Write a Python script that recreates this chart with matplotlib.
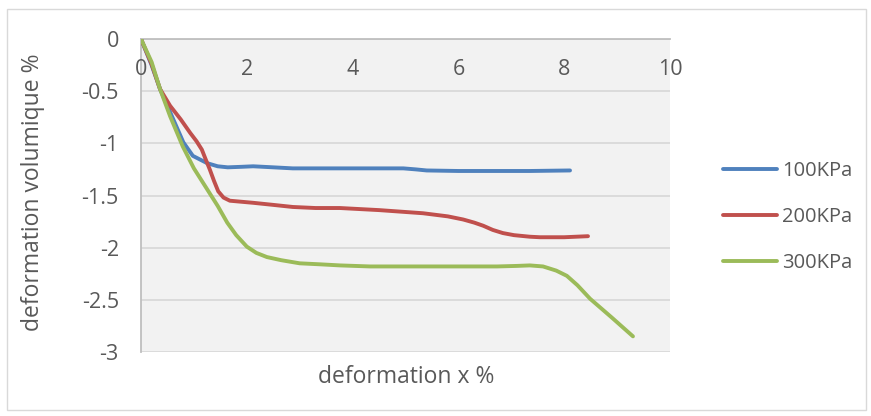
import matplotlib
matplotlib.use("Agg")
import matplotlib.pyplot as plt
import matplotlib.transforms as mtransforms
from matplotlib.patches import Rectangle

plt.rcParams['font.family'] = ['Open Sans', 'DejaVu Sans']

# ---- data ----
x100 = [0.0, 0.2, 0.36, 0.55, 0.8, 0.98, 1.25, 1.45, 1.64, 1.9, 2.12, 2.5, 2.87, 3.3, 3.76, 4.3, 4.96, 5.2, 5.4, 6.0, 6.7, 7.35, 8.11]
y100 = [0.0, -0.25, -0.48, -0.7, -0.99, -1.12, -1.19, -1.22, -1.23, -1.225, -1.22, -1.23, -1.24, -1.24, -1.24, -1.24, -1.24, -1.25, -1.26, -1.265, -1.265, -1.265, -1.26]

x200 = [0.0, 0.2, 0.36, 0.55, 0.75, 0.93, 1.05, 1.15, 1.22, 1.3, 1.38, 1.46, 1.56, 1.68, 1.9, 2.12, 2.5, 2.87, 3.3, 3.76, 4.5, 5.33, 5.8, 6.09, 6.3, 6.47, 6.65, 6.84, 7.05, 7.35, 7.54, 8.0, 8.45]
y200 = [0.0, -0.24, -0.48, -0.64, -0.77, -0.9, -0.98, -1.06, -1.15, -1.25, -1.36, -1.46, -1.52, -1.55, -1.56, -1.57, -1.59, -1.61, -1.62, -1.62, -1.64, -1.67, -1.7, -1.73, -1.76, -1.79, -1.83, -1.86, -1.88, -1.895, -1.9, -1.9, -1.89]

x300 = [0.0, 0.2, 0.36, 0.55, 0.79, 1.0, 1.25, 1.45, 1.63, 1.8, 2.0, 2.18, 2.38, 2.65, 3.0, 3.4, 3.76, 4.33, 5.0, 5.8, 6.73, 7.1, 7.35, 7.6, 7.85, 8.05, 8.25, 8.49, 8.9, 9.3]
y300 = [0.0, -0.22, -0.48, -0.74, -1.03, -1.24, -1.44, -1.6, -1.76, -1.88, -1.99, -2.05, -2.09, -2.12, -2.15, -2.16, -2.17, -2.18, -2.18, -2.18, -2.18, -2.175, -2.17, -2.18, -2.22, -2.27, -2.36, -2.49, -2.67, -2.85]

labels = ["100KPa", "200KPa", "300KPa"]
colors = ["#4F81BD", "#C0504D", "#9BBB59"]
xticks = [0, 2, 4, 6, 8, 10]
yticks = [0, -0.5, -1, -1.5, -2, -2.5, -3]
ytick_labels = ["0", "-0.5", "-1", "-1.5", "-2", "-2.5", "-3"]

FS_TICK = 15.5
FS_TITLE = 16.5
FS_LEG = 14.5
TXT = "#595959"

W, H = 871, 416
fig = plt.figure(figsize=(W / 100, H / 100), dpi=100)
fig.patch.set_facecolor("white")
fig.patches.append(Rectangle((7 / W, 1 - 410 / H), (866 - 7) / W, (410 - 9) / H,
                             transform=fig.transFigure, fill=False,
                             edgecolor="#D9D9D9", linewidth=1.0))

ax = fig.add_axes([141 / W, 1 - 352 / H, (670 - 141) / W, (352 - 39) / H])
ax.set_facecolor("#F2F2F2")

series = [(x100, y100), (x200, y200), (x300, y300)]
for (xs, ys), lab, c in zip(series, labels, colors):
    ax.plot(xs, ys, color=c, linewidth=2.8, label=lab, solid_capstyle="round",
            solid_joinstyle="round", zorder=3)

ax.set_xlim(0, 10)
ax.set_ylim(-3, 0)
ax.set_yticks(yticks)
ax.set_yticklabels(ytick_labels)
ax.set_xticks(xticks)
ax.grid(axis="y", color="#D9D9D9", linewidth=1.3, zorder=0)
ax.set_axisbelow(True)

for s in ["right", "bottom"]:
    ax.spines[s].set_visible(False)
for s in ["left", "top"]:
    ax.spines[s].set_color("#BFBFBF")
    ax.spines[s].set_linewidth(1.3)

ax.tick_params(axis="both", length=0, labelsize=FS_TICK, labelcolor=TXT)
ax.tick_params(axis="y", pad=16)
ax.tick_params(axis="x", labelbottom=False, labeltop=False)

# x tick labels sit just below the y=0 axis line (Excel "next to axis")
offset = ax.transData + mtransforms.ScaledTranslation(0, -20 / 100, fig.dpi_scale_trans)
for xv in xticks:
    ax.text(xv, 0, str(xv), transform=offset, ha="center", va="top",
            fontsize=FS_TICK, color=TXT)

fig.text(406 / W, 1 - 377 / H, "deformation x %", ha="center", va="center",
         fontsize=FS_TITLE, color=TXT)
fig.text(33 / W, 1 - 192 / H, "deformation volumique %", ha="center", va="center",
         rotation=90, fontsize=FS_TITLE, color=TXT)

ax.legend(loc="center left", bbox_to_anchor=(723 / W, 1 - 217 / H),
          bbox_transform=fig.transFigure, frameon=False, fontsize=FS_LEG,
          handlelength=2.68, handletextpad=0.25, labelspacing=1.3,
          labelcolor=TXT, borderaxespad=0, borderpad=0)

fig.savefig("out.png", dpi=100)
